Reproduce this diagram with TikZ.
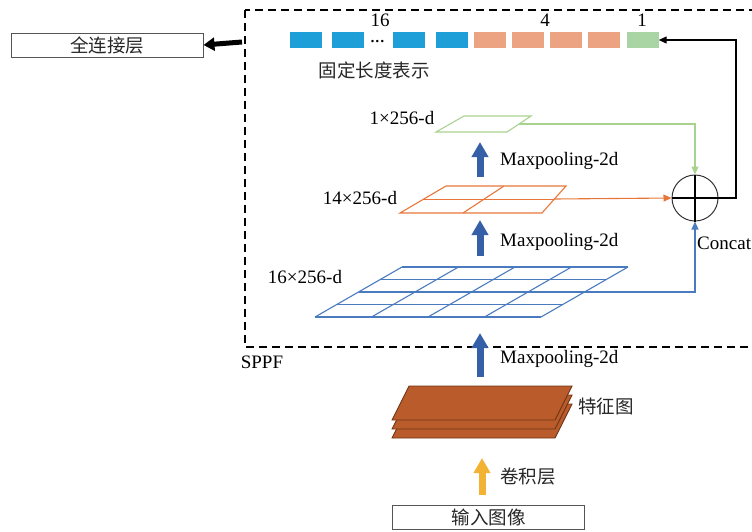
\documentclass[tikz,border=0pt]{standalone}
\usepackage{fontspec}
\setmainfont{Liberation Serif}
\newfontfamily\cjk{Noto Sans CJK SC}
\usetikzlibrary{arrows.meta}
\definecolor{cellblue}{HTML}{1E9FD8}
\definecolor{cellorange}{HTML}{EBA382}
\definecolor{cellgreen}{HTML}{A9D5A4}
\definecolor{gridblue}{HTML}{4A7BBF}
\definecolor{gridorange}{HTML}{E8763A}
\definecolor{gridgreen}{HTML}{A8D38F}
\definecolor{bigblue}{HTML}{3560A8}
\definecolor{bigyellow}{HTML}{F2B233}
\definecolor{platefill}{HTML}{BA5B2B}
\definecolor{plateedge}{HTML}{6E3415}
\definecolor{boxedge}{HTML}{555555}
\begin{document}
\begin{tikzpicture}[x=1pt,y=-1pt,
  lbl/.style={inner sep=0pt, font=\fontsize{19}{22}\selectfont},
  cjklbl/.style={inner sep=0pt, font=\fontsize{18.5}{22}\selectfont\cjk, text=black!85},
  cell/.style={minimum width=32pt, minimum height=16pt, inner sep=0pt},
  textbox/.style={draw=boxedge, line width=1pt, minimum width=192pt, minimum height=24pt, inner sep=0pt, font=\fontsize{18.5}{22}\selectfont\cjk, text=black!85},
  bigarrow/.style={line width=7pt, bigblue, -{Triangle[length=15pt,width=16pt]}},
  thin/.style={line width=1.1pt, -{Triangle[length=8pt,width=7pt]}},
  gridline/.style={line width=1.1pt}
]
\useasboundingbox (0,0) rectangle (752,531);
\clip (0,0) rectangle (752,531);

% SPPF dashed frame
\draw[line width=1.3pt, dash pattern=on 8pt off 5pt] (245,10) rectangle (775,347);
\node[lbl, anchor=center] (sppf) at (262,362) {SPPF};

% fixed length representation
\node[cell, fill=cellblue] (c1) at (305.5,40) {};
\node[cell, fill=cellblue] (c2) at (347.5,40) {};
\node[inner sep=0pt, font=\fontsize{15}{15}\selectfont\bfseries] (dots) at (377.5,43) {···};
\node[cell, fill=cellblue] (c3) at (409,40) {};
\node[cell, fill=cellblue] (c4) at (452,40) {};
\node[cell, fill=cellorange] (c5) at (490,40) {};
\node[cell, fill=cellorange] (c6) at (528,40) {};
\node[cell, fill=cellorange] (c7) at (566,40) {};
\node[cell, fill=cellorange] (c8) at (604,40) {};
\node[cell, fill=cellgreen] (c9) at (642.5,40) {};
\node[lbl] (n16) at (380,20) {16};
\node[lbl] (n4) at (545,20) {4};
\node[lbl] (n1) at (642,20) {1};
\node[cjklbl] (fixed) at (374,70) {固定长度表示};

% green 1x256
\draw[gridgreen, gridline] (436,132) -- (507,132) -- (531,116) -- (464,116) -- cycle;
\coordinate (gout) at (519,124);
\node[lbl] (lg) at (402,118) {1×256-d};

% orange 2x2 grid
\draw[gridorange, gridline] (400,213) -- (542,213) -- (566,186) -- (446,186) -- cycle;
\draw[gridorange, gridline] (423,199.5) -- (554,199.5);
\draw[gridorange, gridline] (463,213) -- (504,186);
\coordinate (oout) at (554,199);
\node[lbl] (lo) at (360,198) {14×256-d};

% blue 4x4 grid
\foreach \t in {0,0.25,0.5,0.75,1}{
  \draw[gridblue, gridline] (315+87*\t,317-50*\t) -- (541+87*\t,317-50*\t);
  \draw[gridblue, gridline] (315+226*\t,317) -- (402+226*\t,267);
}
\coordinate (bout) at (584.5,292);
\node[lbl] (lb) at (305,277) {16×256-d};

% concat
\node[circle, draw=black!80, line width=1pt, minimum size=46pt, inner sep=0pt] (cat) at (695,198) {};
\draw[black, line width=1.2pt] (cat.north) -- (cat.south);
\draw[black, line width=1.2pt] (cat.west) -- (cat.east);
\node[lbl, anchor=west] (lcat) at (697,243) {Concat};

\draw[thin, gridgreen] (gout) -| (cat.north);
\draw[thin, gridorange] (oout) -- (cat.west);
\draw[thin, gridblue] (bout) -| (cat.south);
\coordinate (turn) at (736,198);
\draw[thin, black] (cat.east) -- (turn) |- (c9.east);

% maxpooling arrows
\coordinate (m1s) at (480,177); \coordinate (m1e) at (480,142);
\coordinate (m2s) at (480,256); \coordinate (m2e) at (480,220);
\coordinate (m3s) at (480,377); \coordinate (m3e) at (480,333);
\draw[bigarrow] (m1s) -- (m1e);
\draw[bigarrow] (m2s) -- (m2e);
\draw[bigarrow] (m3s) -- (m3e);
\node[lbl, anchor=west] (mp1) at (500,161) {Maxpooling-2d};
\node[lbl, anchor=west] (mp2) at (500,242) {Maxpooling-2d};
\node[lbl, anchor=west] (mp3) at (500,359) {Maxpooling-2d};

% feature map plates
\foreach \d in {18,9,0}{
  \draw[fill=platefill, draw=plateedge, line width=0.9pt]
    (409,386+\d) -- (572,386+\d) -- (555,420+\d) -- (392,420+\d) -- cycle;
}
\node[cjklbl, anchor=west] (feat) at (578,406) {特征图};

% conv arrow
\coordinate (ys) at (482,495); \coordinate (ye) at (482,458);
\draw[line width=7pt, bigyellow, -{Triangle[length=15pt,width=16pt]}] (ys) -- (ye);
\node[cjklbl, anchor=west] (conv) at (500,477) {卷积层};

% boxes
\node[textbox] (inp) at (488.5,517) {输入图像};
\node[textbox] (fc) at (107,45) {全连接层};
\coordinate (fcs) at (242,42);
\draw[line width=5pt, black, -{Triangle[length=11pt,width=13pt]}] (fcs) -- (fc.east);
\end{tikzpicture}
\end{document}
